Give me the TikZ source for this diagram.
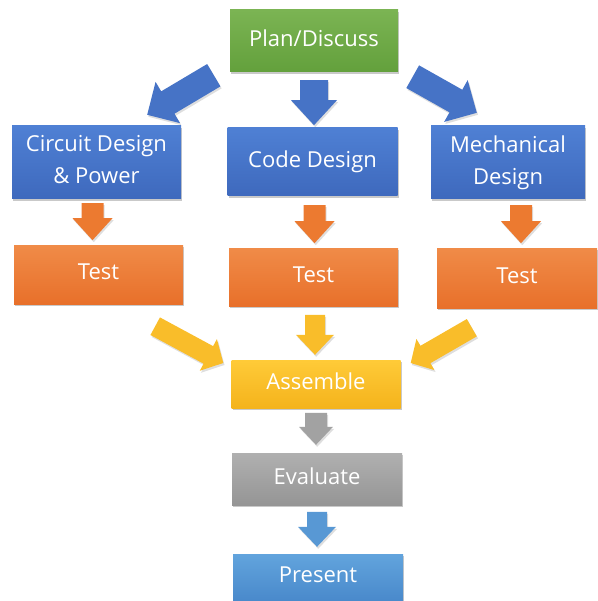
\documentclass[tikz,border=0pt]{standalone}
\usepackage{fontspec}
\setmainfont{Open Sans}
\usetikzlibrary{calc,shadows}
\definecolor{gtop}{HTML}{7BB453}\definecolor{gbot}{HTML}{63A03C}
\definecolor{btop}{HTML}{4F80D4}\definecolor{bbot}{HTML}{3E69BD}
\definecolor{otop}{HTML}{F08B48}\definecolor{obot}{HTML}{E8702A}
\definecolor{ytop}{HTML}{FFCB38}\definecolor{ybot}{HTML}{F4B31C}
\definecolor{gytop}{HTML}{B0B0B0}\definecolor{gybot}{HTML}{959595}
\definecolor{ltop}{HTML}{62A4DD}\definecolor{lbot}{HTML}{4989CB}
\definecolor{barr}{HTML}{4673C6}\definecolor{oarr}{HTML}{EC7A30}
\definecolor{yarr}{HTML}{F9BD2A}\definecolor{garr}{HTML}{A2A2A2}
\definecolor{larr}{HTML}{5898D4}
\newcommand\blockarr[6]{% style, start, end, half shaft, half head, head length
  \coordinate (bah) at ($(#3)!#6!(#2)$);
  \fill[black,opacity=.13,transform canvas={shift={(1.2pt,-2pt)}}]
    ($(#2)!#4!90:(#3)$) -- ($(bah)!#4!90:(#3)$) -- ($(bah)!#5!90:(#3)$) -- (#3)
    -- ($(bah)!#5!-90:(#3)$) -- ($(bah)!#4!-90:(#3)$) -- ($(#2)!#4!-90:(#3)$) -- cycle;
  \fill[#1]
    ($(#2)!#4!90:(#3)$) -- ($(bah)!#4!90:(#3)$) -- ($(bah)!#5!90:(#3)$) -- (#3)
    -- ($(bah)!#5!-90:(#3)$) -- ($(bah)!#4!-90:(#3)$) -- ($(#2)!#4!-90:(#3)$) -- cycle;
}
\tikzset{
  box/.style={rectangle, inner sep=0pt, text=white, align=center,
    font=\fontsize{22}{32}\selectfont,
    execute at end node={\vphantom{g}},
    drop shadow={shadow xshift=1.2pt, shadow yshift=-2.2pt, opacity=.3, fill=black!70}},
  greenbox/.style={box, top color=gtop, bottom color=gbot},
  bluebox/.style={box, top color=btop, bottom color=bbot},
  orangebox/.style={box, top color=otop, bottom color=obot},
  yellowbox/.style={box, top color=ytop, bottom color=ybot},
  graybox/.style={box, top color=gytop, bottom color=gybot},
  lbluebox/.style={box, top color=ltop, bottom color=lbot},
}
\begin{document}
\begin{tikzpicture}[x=1pt,y=-1pt]
\useasboundingbox (0,0) rectangle (597,601);
% boxes
\node[greenbox, minimum width=168pt, minimum height=62pt] (plan) at (314,41) {Plan/Discuss};
\node[bluebox, minimum width=169pt, minimum height=73pt] (circuit) at (96.5,162.5) {Circuit Design\\\& Power};
\node[bluebox, minimum width=170pt, minimum height=68pt] (code) at (312.5,162) {Code Design};
\node[bluebox, minimum width=154pt, minimum height=73pt] (mech) at (508,162.5) {Mechanical\\Design};
\node[orangebox, minimum width=169pt, minimum height=59pt] (test1) at (98.5,274.5) {Test};
\node[orangebox, minimum width=169pt, minimum height=58pt] (test2) at (313.5,277) {Test};
\node[orangebox, minimum width=160pt, minimum height=60pt] (test3) at (517,278) {Test};
\node[yellowbox, minimum width=169pt, minimum height=48pt] (assemble) at (316,384) {Assemble};
\node[graybox, minimum width=170pt, minimum height=52pt] (evaluate) at (317,479) {Evaluate};
\node[lbluebox, minimum width=170pt, minimum height=47pt] (present) at (318,577.5) {Present};
% arrow end points
\coordinate (a1s) at ($(plan.south west)+(-16,3)$);
\coordinate (a1e) at ($(circuit.north east)+(-34,-11)$);
\coordinate (a2s) at ($(plan.south)+(0,8)$);
\coordinate (a2e) at ($(plan.south)+(0,53)$);
\coordinate (a3s) at ($(plan.south east)+(14.5,4.5)$);
\coordinate (a3e) at ($(mech.north west)+(46,-13)$);
\coordinate (o1s) at ($(circuit.south)+(-4,4)$);
\coordinate (o1e) at ($(circuit.south)+(-4,41)$);
\coordinate (o2s) at ($(code.south)+(2,9)$);
\coordinate (o2e) at ($(code.south)+(2,47)$);
\coordinate (o3s) at ($(mech.south)+(13,6)$);
\coordinate (o3e) at ($(mech.south)+(13,44)$);
\coordinate (y1s) at ($(test1.south east)+(-28,22)$);
\coordinate (y1e) at ($(assemble.west)+(-8,-21)$);
\coordinate (y2s) at ($(assemble.north)+(-1,-45)$);
\coordinate (y2e) at ($(assemble.north)+(-1,-5)$);
\coordinate (y3s) at ($(test3.south west)+(35,19.5)$);
\coordinate (y3e) at ($(assemble.east)+(10,-21)$);
\coordinate (g1s) at ($(evaluate.north)+(-1,-40)$);
\coordinate (g1e) at ($(evaluate.north)+(-1,-8)$);
\coordinate (l1s) at ($(present.north)+(-1,-42)$);
\coordinate (l1e) at ($(present.north)+(-1,-7)$);
% block arrows
\blockarr{barr}{a1s}{a1e}{13pt}{24pt}{24pt}
\blockarr{barr}{a2s}{a2e}{14pt}{23pt}{25pt}
\blockarr{barr}{a3s}{a3e}{13pt}{24pt}{24pt}
\blockarr{oarr}{o1s}{o1e}{11pt}{20pt}{22pt}
\blockarr{oarr}{o2s}{o2e}{11pt}{20pt}{22pt}
\blockarr{oarr}{o3s}{o3e}{11pt}{20pt}{22pt}
\blockarr{yarr}{y1s}{y1e}{10pt}{18pt}{17pt}
\blockarr{yarr}{y2s}{y2e}{10pt}{19pt}{20pt}
\blockarr{yarr}{y3s}{y3e}{10pt}{18pt}{17pt}
\blockarr{garr}{g1s}{g1e}{11pt}{17pt}{18pt}
\blockarr{larr}{l1s}{l1e}{10pt}{19pt}{20pt}
\end{tikzpicture}
\end{document}
